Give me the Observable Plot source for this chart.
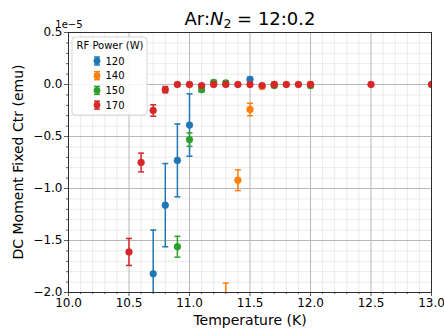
<!DOCTYPE html>
<html>
<head>
<meta charset="utf-8">
<script src="https://cdn.jsdelivr.net/npm/d3@7"></script>
<script src="https://cdn.jsdelivr.net/npm/@observablehq/plot@0.6"></script>
<style>
  html, body { margin: 0; padding: 0; background: #fff; }
  svg { display: block; }
</style>
</head>
<body>
<div id="chart"></div>
<script>
// ---- data (values in units of 1e-5 emu) ----
const seriesNames = ["120", "140", "150", "170"];
const seriesColors = ["#1f77b4", "#ff7f0e", "#2ca02c", "#d62728"];

const temps120 = [10.7, 10.8, 10.9, 11.0, 11.5];
const vals120  = [-1.82, -1.16, -0.73, -0.39, 0.05];
const errs120  = [0.42, 0.40, 0.35, 0.30, 0.02];

const temps140 = [11.3, 11.4, 11.5, 11.6, 11.7, 12.0];
const vals140  = [-2.05, -0.92, -0.24, -0.02, 0.0, 0.0];
const errs140  = [0.14, 0.10, 0.06, 0.02, 0.02, 0.02];

const temps150 = [10.9, 11.0, 11.1, 11.2, 11.3, 11.7, 12.0];
const vals150  = [-1.56, -0.53, -0.05, 0.02, 0.015, -0.01, -0.01];
const errs150  = [0.10, 0.065, 0.02, 0.02, 0.02, 0.02, 0.02];

const temps170 = [10.5, 10.6, 10.7, 10.8, 10.9, 11.0, 11.1, 11.2, 11.3, 11.4, 11.5, 11.6, 11.7, 11.8, 11.9, 12.0, 12.5, 13.0];
const vals170  = [-1.61, -0.75, -0.25, -0.05, 0.0, 0.0, -0.01, 0.0, 0.0, 0.0, 0.0, -0.01, 0.0, 0.0, 0.0, 0.0, 0.0, 0.0];
const errs170  = [0.13, 0.09, 0.055, 0.03, 0.01, 0.01, 0.01, 0.01, 0.01, 0.01, 0.01, 0.01, 0.01, 0.01, 0.01, 0.01, 0.01, 0.01];

const xMajorTicks = [10.0, 10.5, 11.0, 11.5, 12.0, 12.5, 13.0];
const yMajorTicks = [-2.0, -1.5, -1.0, -0.5, 0.0, 0.5];
const xMinorTicks = [10.1,10.2,10.3,10.4,10.6,10.7,10.8,10.9,11.1,11.2,11.3,11.4,11.6,11.7,11.8,11.9,12.1,12.2,12.3,12.4,12.6,12.7,12.8,12.9];
const yMinorTicks = [-1.9,-1.8,-1.7,-1.6,-1.4,-1.3,-1.2,-1.1,-0.9,-0.8,-0.7,-0.6,-0.4,-0.3,-0.2,-0.1,0.1,0.2,0.3,0.4];

// ---- build table ----
const tables = [
  [temps120, vals120, errs120],
  [temps140, vals140, errs140],
  [temps150, vals150, errs150],
  [temps170, vals170, errs170]
];
const rows = [];
tables.forEach(([t, v, e], i) => {
  t.forEach((tt, j) => rows.push({series: seriesNames[i], order: i, t: tt, v: v[j], e: e[j]}));
});

const capSymbol = {
  draw(context, size) {
    const r = Math.sqrt(size / Math.PI);
    context.moveTo(-r, 0);
    context.lineTo(r, 0);
  }
};

const font = "DejaVu Sans, sans-serif";

const seriesMarks = [];
seriesNames.forEach((name, i) => {
  const d = rows.filter(r => r.series === name);
  const c = seriesColors[i];
  seriesMarks.push(
    Plot.ruleX(d, {x: "t", y1: r => r.v - r.e, y2: r => r.v + r.e, stroke: c, strokeWidth: 1.5, clip: true}),
    Plot.dot(d, {x: "t", y: r => r.v - r.e, r: 3, symbol: capSymbol, stroke: c, strokeWidth: 1.5, fill: "none", clip: true}),
    Plot.dot(d, {x: "t", y: r => r.v + r.e, r: 3, symbol: capSymbol, stroke: c, strokeWidth: 1.5, fill: "none", clip: true}),
    Plot.dot(d, {x: "t", y: "v", r: 3.4, fill: c, stroke: c, strokeWidth: 0.5, clip: true})
  );
});

const noText = () => "";

const chart = Plot.plot({
  width: 444,
  height: 330,
  marginLeft: 68,
  marginRight: 13,
  marginTop: 32,
  marginBottom: 38,
  style: {fontFamily: font, fontSize: "12px", color: "#000", background: "#fff"},
  x: {domain: [10, 13], label: null},
  y: {domain: [-2, 0.5], label: null},
  marks: [
    Plot.gridX(xMinorTicks, {stroke: "#e6e6e6", strokeOpacity: 1, strokeWidth: 0.8}),
    Plot.gridY(yMinorTicks, {stroke: "#e6e6e6", strokeOpacity: 1, strokeWidth: 0.8}),
    Plot.gridX(xMajorTicks, {stroke: "#b8b8b8", strokeOpacity: 1, strokeWidth: 1}),
    Plot.gridY(yMajorTicks, {stroke: "#b8b8b8", strokeOpacity: 1, strokeWidth: 1}),
    Plot.axisX(xMinorTicks, {tickSize: 2, tickFormat: noText, stroke: "#333", strokeWidth: 0.8, label: null}),
    Plot.axisY(yMinorTicks, {tickSize: 2, tickFormat: noText, stroke: "#333", strokeWidth: 0.8, label: null}),
    Plot.axisX(xMajorTicks, {tickSize: 4, tickPadding: 2, tickFormat: d3.format(".1f"), stroke: "#333", strokeWidth: 0.8, fontSize: 12, fill: "#000", label: null}),
    Plot.axisY(yMajorTicks, {tickSize: 4, tickPadding: 2, tickFormat: d3.format(".1f"), stroke: "#333", strokeWidth: 0.8, fontSize: 12, fill: "#000", label: null}),
    ...seriesMarks,
    Plot.frame({stroke: "#222", strokeWidth: 0.9})
  ]
});

document.getElementById("chart").appendChild(chart);

// ---- annotations: title, axis labels, offset text, legend ----
const svg = d3.select(chart);

const title = svg.append("text")
  .attr("x", 250).attr("y", 25)
  .attr("text-anchor", "middle")
  .attr("font-family", font).attr("font-size", 18).attr("fill", "#000");
title.append("tspan").text("Ar:");
title.append("tspan").attr("font-style", "italic").text("N");
title.append("tspan").attr("font-size", 12.5).attr("dy", 3).text("2");
title.append("tspan").attr("dy", -3).text(" = 12:0.2");

svg.append("text")
  .attr("x", 250).attr("y", 325)
  .attr("text-anchor", "middle")
  .attr("font-family", font).attr("font-size", 14).attr("fill", "#000")
  .text("Temperature (K)");

svg.append("text")
  .attr("transform", "translate(23,162) rotate(-90)")
  .attr("text-anchor", "middle")
  .attr("font-family", font).attr("font-size", 14).attr("fill", "#000")
  .text("DC Moment Fixed Ctr (emu)");

svg.append("text")
  .attr("x", 69).attr("y", 28)
  .attr("font-family", font).attr("font-size", 10).attr("fill", "#000")
  .text("1e\u22125");

// legend
const lg = svg.append("g");
lg.append("rect")
  .attr("x", 72).attr("y", 37).attr("width", 75).attr("height", 78)
  .attr("rx", 3).attr("fill", "#fff").attr("fill-opacity", 0.85)
  .attr("stroke", "#cccccc").attr("stroke-width", 0.8);
lg.append("text")
  .attr("x", 110).attr("y", 49)
  .attr("text-anchor", "middle")
  .attr("font-family", font).attr("font-size", 10).attr("fill", "#000")
  .text("RF Power (W)");
seriesNames.forEach((name, i) => {
  const cy = 61 + i * 14.7;
  const cx = 97;
  const c = seriesColors[i];
  lg.append("line").attr("x1", cx).attr("x2", cx).attr("y1", cy - 4).attr("y2", cy + 4).attr("stroke", c).attr("stroke-width", 1.5);
  lg.append("line").attr("x1", cx - 3).attr("x2", cx + 3).attr("y1", cy - 4).attr("y2", cy - 4).attr("stroke", c).attr("stroke-width", 1.5);
  lg.append("line").attr("x1", cx - 3).attr("x2", cx + 3).attr("y1", cy + 4).attr("y2", cy + 4).attr("stroke", c).attr("stroke-width", 1.5);
  lg.append("circle").attr("cx", cx).attr("cy", cy).attr("r", 3.4).attr("fill", c);
  lg.append("text")
    .attr("x", 115).attr("y", cy + 3.6)
    .attr("font-family", font).attr("font-size", 10).attr("fill", "#000")
    .text(name);
});
</script>
</body>
</html>
